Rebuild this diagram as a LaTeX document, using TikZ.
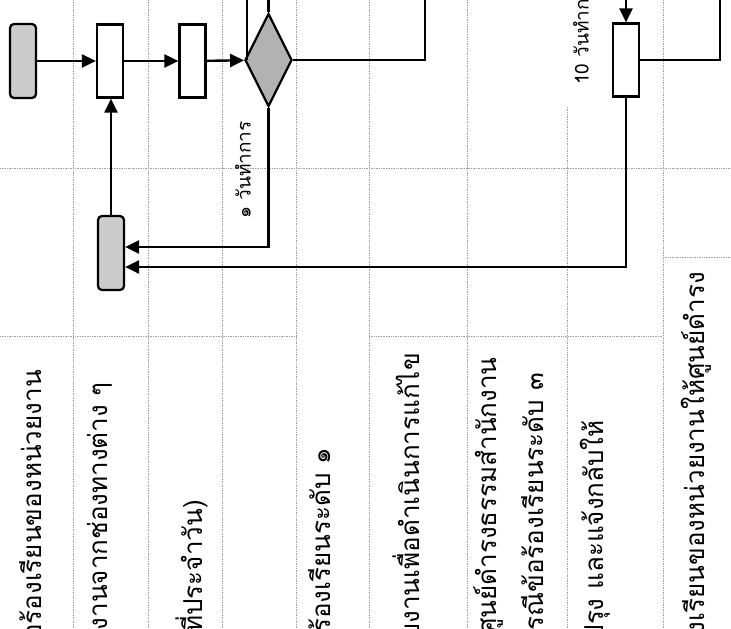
\documentclass[tikz,border=0pt]{standalone}
\usepackage{fontspec}
\newfontfamily\thaifont[Script=Thai]{Loma}
\usetikzlibrary{arrows.meta,shapes.geometric}
\definecolor{termgray}{RGB}{204,204,204}
\definecolor{decgray}{RGB}{178,178,178}
\definecolor{gridgray}{RGB}{160,160,160}
\tikzset{
  flow/.style={line width=2.4pt,-{Triangle[length=14pt,width=13pt]}},
  link/.style={line width=2.4pt},
  gridline/.style={gridgray,line width=0.7pt,densely dotted},
  term/.style={draw,rounded corners=4pt,line width=2.2pt,fill=termgray,minimum width=26pt,minimum height=74pt,inner sep=0pt},
  proc/.style={draw,line width=2.2pt,fill=white,minimum width=26pt,minimum height=73pt,inner sep=0pt},
  dec/.style={diamond,draw,line width=2.2pt,fill=decgray,minimum width=47pt,minimum height=93pt,inner sep=0pt},
  rowtext/.style={rotate=90,anchor=east,inner sep=0pt,font=\thaifont\fontsize{26}{30}\selectfont},
  daylab/.style={rotate=90,inner sep=0pt,font=\thaifont\fontsize{19}{21}\selectfont}
}
\begin{document}
\begin{tikzpicture}[x=1pt,y=-1pt]
  \useasboundingbox (0,0) rectangle (731,629);
  \clip (0,0) rectangle (731,629);
  % table grid
  \foreach \gx in {73,148,222,296,369,467,663}
    \draw[gridline] (\gx,0) -- (\gx,629);
  \draw[gridline] (567,107) -- (567,629);
  \draw[gridline] (0,168) -- (731,168);
  \draw[gridline] (0,336) -- (296,336); \draw[gridline] (369,336) -- (663,336);
  \draw[gridline] (663,257) -- (731,257);
  % flow
  \node[term] (start) at (23,61) {};
  \node[proc] (recv) at (110,61) {};
  \node[proc] (reg) at (192.5,61) {};
  \node[dec] (check) at (268.5,60) {};
  \node[term] (back) at (111,253) {};
  \node[proc] (fix) at (626,60) {};
  \coordinate (chkin) at (247,0); \coordinate (chkup) at (268.5,0);
  \coordinate (chkout) at (425,0);
  \coordinate (fixin) at (626,0); \coordinate (fixout) at (720,0);
  \draw[flow] (start) -- (recv);
  \draw[flow] (recv) -- (reg);
  \draw[flow] (reg) -- (check);
  \draw[flow] (back.north) -- (back.north |- recv.south);
  \draw[flow] (check.south) |- (back.east |- 0,247);
  \draw[flow] (fix.south) |- (back.east |- 0,267);
  \draw[link] (chkin) -- (chkin |- check.west);
  \draw[link] (check.north) -- (chkup);
  \draw[link] (check.east) -| (chkout);
  \draw[flow] (fixin) -- (fix.north);
  \draw[link] (fix.east) -| (fixout);
  \node[daylab] (d1) at (243,170) {๑ วันทำการ};
  \node[daylab,anchor=west] (d10) at (581,85) {10 วันทำการ};
  % table texts
  \node[rowtext] (t1) at (31,370) {รับข้อร้องเรียนของหน่วยงาน};
  \node[rowtext] (t2) at (100,382) {หน่วยงานจากช่องทางต่าง ๆ};
  \node[rowtext] (t3) at (192,500) {(ที่ประจำวัน)};
  \node[rowtext] (t5) at (320,448) {ข้อร้องเรียนระดับ ๑};
  \node[rowtext] (t6) at (406,353) {ส่งหน่วยงานเพื่อดำเนินการแก้ไข};
  \node[rowtext] (t7a) at (488,357) {ส่งศูนย์ดำรงธรรมสำนักงาน};
  \node[rowtext] (t7b) at (532,373) {ในกรณีข้อร้องเรียนระดับ ๓};
  \node[rowtext] (t8) at (595,420) {ปรับปรุง และแจ้งกลับให้};
  \node[rowtext] (t9) at (695,272) {ส่งเรื่องร้องเรียนของหน่วยงานให้ศูนย์ดำรง};
\end{tikzpicture}
\end{document}
